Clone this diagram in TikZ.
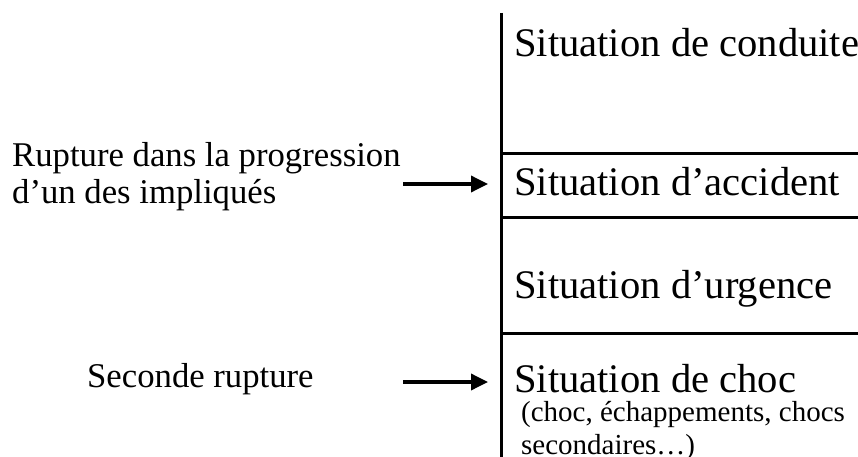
\documentclass[tikz,border=0pt]{standalone}
\usepackage{fontspec}
\setmainfont{Liberation Serif}
\usetikzlibrary{arrows.meta}

\tikzset{
  big/.style={anchor=base west, inner sep=0pt, font=\fontsize{40.6}{48}\selectfont},
  side/.style={anchor=base west, inner sep=0pt, font=\fontsize{34.7}{36}\selectfont},
  small/.style={anchor=base west, inner sep=0pt, font=\fontsize{29}{33}\selectfont},
  bar/.style={line width=3pt},
  push/.style={line width=3.5pt, -{Triangle[length=17pt,width=16pt]}}
}

\begin{document}
\begin{tikzpicture}[x=1pt, y=-1pt]
        \useasboundingbox (0,0) rectangle (858,457);
        \clip (0,0) rectangle (858,457);
        % the stages
        \draw[bar] (501,13) -- (501,457);
        \draw[bar] (501,154) -- (858,154);
        \draw[bar] (501,217) -- (858,217);
        \draw[bar] (501,333) -- (858,333);
        \node[big] (conduite) at (514,57) {Situation de conduite};
        \node[big] (accident) at (514,195) {Situation d’accident};
        \node[big] (urgence) at (514,298) {Situation d’urgence};
        \node[big] (choc) at (514,392) {Situation de choc};
        \node[small] (detail1) at (521,421) {(choc, échappements, chocs};
        \node[small] (detail2) at (521,454) {secondaires\dots)};
        % ruptures
        \node[side] (rupt1) at (12,167) {Rupture dans la progression};
        \node[side] (rupt1b) at (12,203) {d’un des impliqués};
        \node[side] (rupt2) at (87,387) {Seconde rupture};
        \coordinate (a1) at (403,184);
        \coordinate (b1) at (488,184);
        \coordinate (a2) at (403,382);
        \coordinate (b2) at (488,382);
        \draw[push] (a1) -- (b1);
        \draw[push] (a2) -- (b2);
    \end{tikzpicture}
\end{document}
